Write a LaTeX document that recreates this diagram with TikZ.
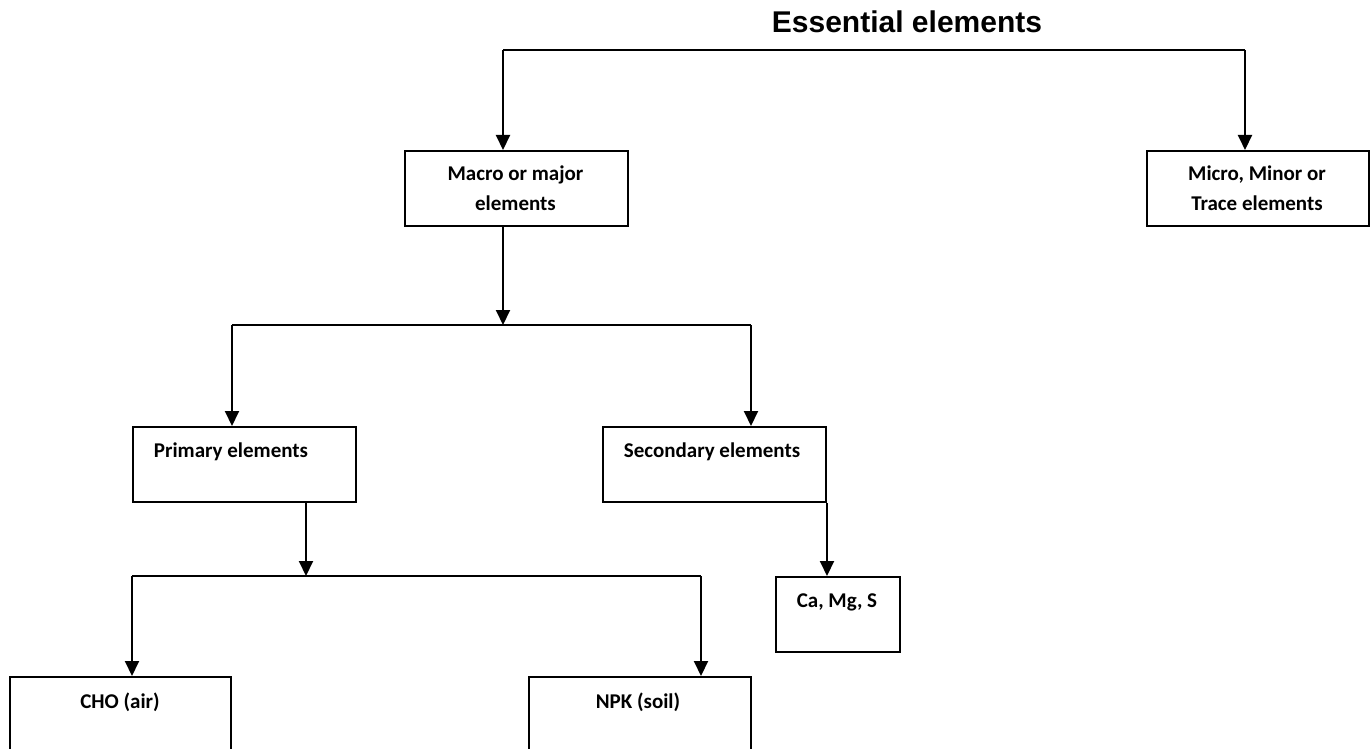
\documentclass[tikz,border=0pt]{standalone}
\usepackage{fontspec}
\setmainfont{Carlito}
\newfontfamily\titlefont{Liberation Sans}
\usetikzlibrary{arrows.meta}
\begin{document}
\begin{tikzpicture}[x=1pt,y=-1pt,
  box/.style={draw, line width=2pt, inner sep=0pt, anchor=north west},
  lbl/.style={font=\bfseries\fontsize{21}{30}\selectfont, inner sep=0pt, anchor=base, align=center},
  conn/.style={line width=2pt},
  arr/.style={line width=2pt, -{Triangle[width=14pt,length=15pt]}}]
\useasboundingbox (0,0) rectangle (1371,749);
\clip (0,0) rectangle (1371,749);
% title
\node[font=\titlefont\bfseries\fontsize{30}{36}\selectfont, inner sep=0pt, anchor=base] (title) at (907,33) {Essential elements};
% boxes
\node[box, minimum width=223pt, minimum height=75pt] (macro) at (404,150) {};
\node[box, minimum width=222pt, minimum height=75pt] (micro) at (1146,150) {};
\node[box, minimum width=223pt, minimum height=75pt] (prim) at (132,426) {};
\node[box, minimum width=223pt, minimum height=75pt] (sec) at (602,426) {};
\node[box, minimum width=124pt, minimum height=75pt] (ca) at (775,576) {};
\node[box, minimum width=221pt, minimum height=110pt] (cho) at (9,676) {};
\node[box, minimum width=222pt, minimum height=110pt] (npk) at (528,676) {};
% texts (base anchor = baseline of the last line)
\node[lbl] (macrot) at (515.5,211) {Macro or major\\elements};
\node[lbl] (microt) at (1257,211) {Micro, Minor or\\Trace elements};
\node[lbl] (primt) at (231,457) {Primary elements};
\node[lbl] (sect) at (712,457) {Secondary elements};
\node[lbl] (cat) at (837,607) {Ca, Mg, S};
\node[lbl] (chot) at (120,708) {CHO (air)};
\node[lbl] (npkt) at (638,708) {NPK (soil)};
% junctions
\coordinate (t1) at (503,50);
\coordinate (t2) at (1245,50);
\coordinate (h1) at (232,325);
\coordinate (h2) at (751,325);
\coordinate (hm) at (503,325);
\coordinate (l1) at (132,576);
\coordinate (l2) at (701,576);
\coordinate (lm) at (306,576);
% connectors
\draw[conn] (t1) -- (t2);
\draw[arr] (t1) -- (t1 |- macro.north);
\draw[arr] (t2) -- (t2 |- micro.north);
\draw[arr] (hm |- macro.south) -- (hm);
\draw[conn] (h1) -- (h2);
\draw[arr] (h1) -- (h1 |- prim.north);
\draw[arr] (h2) -- (h2 |- sec.north);
\draw[arr] (lm |- prim.south) -- (lm);
\draw[conn] (l1) -- (l2);
\draw[arr] (l1) -- (l1 |- cho.north);
\draw[arr] (l2) -- (l2 |- npk.north);
\draw[arr] (sec.south east) -- (sec.south east |- ca.north);
\end{tikzpicture}
\end{document}
